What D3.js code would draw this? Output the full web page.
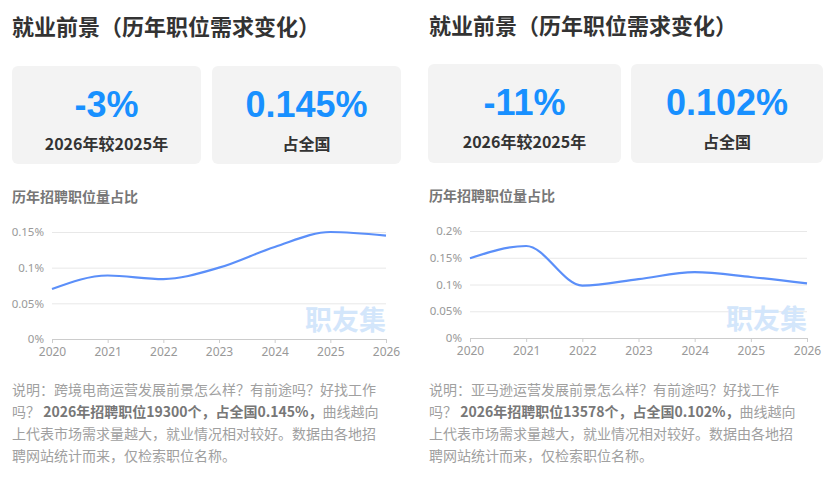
<!DOCTYPE html>
<html>
<head>
<meta charset="utf-8">
<script src="https://cdn.jsdelivr.net/npm/d3@7"></script>
<style>
  body { margin: 0; background: #fff; }
  svg text { font-family: 'Noto Sans CJK SC', 'Noto Sans', sans-serif; }
</style>
</head>
<body>
<div id="wrapper"></div>
<script>
// data
const years = [2020, 2021, 2022, 2023, 2024, 2025, 2026];
const leftShare = [0.07, 0.089, 0.084, 0.1, 0.129, 0.15, 0.145];
const rightShare = [0.149, 0.172, 0.098, 0.11, 0.123, 0.114, 0.102];
const leftTicks = [0, 0.05, 0.1, 0.15];
const rightTicks = [0, 0.05, 0.1, 0.15, 0.2];
const leftStats = ['-3%', '0.145%'];
const rightStats = ['-11%', '0.102%'];
const statLabels = ['2026年较2025年', '占全国'];
const leftNote = [
  [['说明：跨境电商运营发展前景怎么样？有前途吗？好找工作', false]],
  [['吗？ ', false], ['2026年招聘职位19300个，占全国0.145%，', true], ['曲线越向', false]],
  [['上代表市场需求量越大，就业情况相对较好。数据由各地招', false]],
  [['聘网站统计而来，仅检索职位名称。', false]]
];
const rightNote = [
  [['说明：亚马逊运营发展前景怎么样？有前途吗？好找工作', false]],
  [['吗？ ', false], ['2026年招聘职位13578个，占全国0.102%，', true], ['曲线越向', false]],
  [['上代表市场需求量越大，就业情况相对较好。数据由各地招', false]],
  [['聘网站统计而来，仅检索职位名称。', false]]
];

const wrapper = d3.select('#wrapper')
  .append('svg')
  .attr('width', 828)
  .attr('height', 492);

function drawPanel(opts) {
  const g = wrapper.append('g');

  // title
  g.append('text')
    .attr('x', opts.x)
    .attr('y', opts.titleY)
    .attr('font-size', 22)
    .attr('font-weight', 700)
    .attr('fill', '#333')
    .text('就业前景（历年职位需求变化）');

  // stat cards
  opts.cards.forEach((c, i) => {
    g.append('rect')
      .attr('x', c[0])
      .attr('y', opts.cardY)
      .attr('width', c[1] - c[0])
      .attr('height', opts.cardH)
      .attr('rx', 6)
      .attr('fill', '#f3f3f3');
    const cx = (c[0] + c[1]) / 2;
    g.append('text')
      .attr('x', cx)
      .attr('y', opts.cardY + 51)
      .attr('text-anchor', 'middle')
      .attr('font-size', 36)
      .attr('font-weight', 700)
      .attr('fill', '#1890ff')
      .style('font-family', "'Liberation Sans', Arial, sans-serif")
      .text(opts.stats[i]);
    g.append('text')
      .attr('x', cx)
      .attr('y', opts.cardY + 84)
      .attr('text-anchor', 'middle')
      .attr('font-size', 16)
      .attr('font-weight', 700)
      .attr('fill', '#333')
      .text(statLabels[i]);
  });

  // chart subtitle
  g.append('text')
    .attr('x', opts.x)
    .attr('y', opts.subY)
    .attr('font-size', 14)
    .attr('font-weight', 700)
    .attr('fill', '#777')
    .text('历年招聘职位量占比');

  // scales
  const xScale = d3.scalePoint()
    .domain(years)
    .range([opts.plotLeft, opts.plotRight]);

  const yScale = d3.scaleLinear()
    .domain([0, d3.max(opts.ticks)])
    .range([opts.plotBottom, opts.plotTop]);

  // grid
  const yAxisGenerator = d3.axisLeft(yScale)
    .tickValues(opts.ticks)
    .tickSize(-(opts.plotRight - opts.plotLeft))
    .tickPadding(8)
    .tickFormat(d => d3.format('~g')(+d.toFixed(3)) + '%');

  const yAxis = g.append('g')
    .attr('transform', `translate(${opts.plotLeft},0)`)
    .call(yAxisGenerator);
  yAxis.select('.domain').remove();
  yAxis.selectAll('line').attr('stroke', '#e8e8e8');
  yAxis.selectAll('text')
    .attr('fill', '#999')
    .attr('font-size', 11.5)
    .style('font-family', "'Noto Sans', sans-serif");

  // watermark
  g.append('text')
    .attr('x', opts.plotRight)
    .attr('y', opts.plotBottom - 9)
    .attr('text-anchor', 'end')
    .attr('font-size', 27)
    .attr('font-weight', 700)
    .attr('fill', '#d3e6fb')
    .text('职友集');

  // x axis
  const xAxisGenerator = d3.axisBottom(xScale)
    .tickSize(4)
    .tickPadding(4);
  const xAxis = g.append('g')
    .attr('transform', `translate(0,${opts.plotBottom})`)
    .call(xAxisGenerator);
  xAxis.select('.domain').attr('stroke', '#ccc');
  xAxis.selectAll('line').attr('stroke', '#ccc');
  xAxis.selectAll('text')
    .attr('fill', '#999')
    .attr('font-size', 12)
    .style('font-family', "'Noto Sans', sans-serif");

  // line
  const lineGenerator = d3.line()
    .x((d, i) => xScale(years[i]))
    .y(d => yScale(d))
    .curve(d3.curveMonotoneX);

  g.append('path')
    .datum(opts.values)
    .attr('d', lineGenerator)
    .attr('fill', 'none')
    .attr('stroke', '#5b8ff9')
    .attr('stroke-width', 2.2);

  // note
  const note = g.append('text')
    .attr('font-size', 14);
  opts.note.forEach((line, li) => {
    line.forEach((seg, si) => {
      const t = note.append('tspan')
        .attr('fill', seg[1] ? '#777' : '#a0a0a0')
        .attr('font-weight', seg[1] ? 700 : 400)
        .text(seg[0]);
      if (si === 0) t.attr('x', opts.x).attr('y', 395 + li * 22);
    });
  });
}

drawPanel({
  x: 12, titleY: 35,
  cards: [[12, 201], [212, 401]], cardY: 66, cardH: 98,
  stats: leftStats,
  subY: 202,
  plotLeft: 52, plotRight: 386, plotTop: 232, plotBottom: 339,
  ticks: leftTicks, values: leftShare, note: leftNote
});

drawPanel({
  x: 429, titleY: 34,
  cards: [[428, 621], [631, 823]], cardY: 64, cardH: 99,
  stats: rightStats,
  subY: 201,
  plotLeft: 470, plotRight: 807, plotTop: 231, plotBottom: 338,
  ticks: rightTicks, values: rightShare, note: rightNote
});
</script>
</body>
</html>
